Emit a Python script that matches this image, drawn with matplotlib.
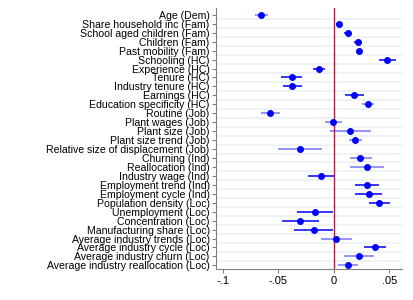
import matplotlib
matplotlib.use("Agg")
import matplotlib.pyplot as plt

plt.rcParams['font.family'] = ['Liberation Sans', 'DejaVu Sans']

labels = ["Age (Dem)", "Share household inc (Fam)", "School aged children (Fam)",
          "Children (Fam)", "Past mobility (Fam)", "Schooling (HC)", "Experience (HC)",
          "Tenure (HC)", "Industry tenure (HC)", "Earnings (HC)",
          "Education specificity (HC)", "Routine (Job)", "Plant wages (Job)",
          "Plant size (Job)", "Plant size trend (Job)",
          "Relative size of displacement (Job)", "Churning (Ind)", "Reallocation (Ind)",
          "Industry wage (Ind)", "Employment trend (Ind)", "Employment cycle (Ind)",
          "Population density (Loc)", "Unemployment (Loc)", "Concentration (Loc)",
          "Manufacturing share (Loc)", "Average industry trends (Loc)",
          "Average industry cycle (Loc)", "Average industry churn (Loc)",
          "Average industry reallocation (Loc)"]

coef = [-0.0655, 0.0042, 0.0123, 0.0219, 0.0228, 0.0483, -0.0138, -0.0381, -0.0375,
        0.0180, 0.0309, -0.0574, -0.0006, 0.0147, 0.0195, -0.0306, 0.0240, 0.0300,
        -0.0117, 0.0297, 0.0315, 0.0408, -0.0171, -0.0303, -0.0183, 0.0021, 0.0372,
        0.0228, 0.0126]
lo = [-0.0709, 0.0015, 0.0095, 0.0180, 0.0200, 0.0408, -0.0186, -0.0474, -0.0456,
      0.0099, 0.0252, -0.0655, -0.0081, -0.0036, 0.0138, -0.0502, 0.0141, 0.0147,
      -0.0234, 0.0189, 0.0195, 0.0315, -0.0330, -0.0465, -0.0357, -0.0117, 0.0270,
      0.0090, 0.0036]
hi = [-0.0598, 0.0070, 0.0152, 0.0258, 0.0255, 0.0559, -0.0081, -0.0286, -0.0291,
      0.0270, 0.0366, -0.0486, 0.0075, 0.0333, 0.0255, -0.0105, 0.0342, 0.0456,
      0.0000, 0.0405, 0.0435, 0.0502, -0.0012, -0.0138, -0.0012, 0.0162, 0.0474,
      0.0363, 0.0222]
# 1 = solid blue interval, 0 = faded
solid = [0, 1, 1, 1, 1, 1, 1, 1, 1, 1, 0, 0, 0, 0, 0, 0, 0, 0, 1, 1, 1, 1, 1, 1, 1,
         0, 1, 0, 0]

xticks = [-0.1, -0.05, 0, 0.05]
xticklabels = ["-.1", "-.05", "0", ".05"]

fig = plt.figure(figsize=(4.13, 3.0), dpi=100)
ax = fig.add_axes([0.523, 0.102, 0.45, 0.871])

n = len(labels)
for i in range(n):
    ax.axhline(i + 0.5, color="#eaf1f2", lw=1.2, zorder=0)
    c = "#0000ff" if solid[i] else "#7575ff"
    ax.plot([lo[i], hi[i]], [i, i], color=c, lw=1.1, solid_capstyle="butt", zorder=2)
ax.plot(coef, range(n), "o", color="#0000ff", ms=4, zorder=3)
ax.axvline(0, color="#d1113d", lw=1.0, zorder=2)

ax.set_ylim(n - 0.55, -0.75)
ax.set_xlim(-0.1063, 0.0613)
ax.set_yticks(range(n))
ax.set_yticklabels(labels, fontsize=7.6)
ax.set_xticks(xticks)
ax.set_xticklabels(xticklabels, fontsize=8)
ax.tick_params(colors="#808080", labelcolor="black", length=3, width=0.8, pad=1.5)

for s in ["top", "right"]:
    ax.spines[s].set_visible(False)
for s in ["left", "bottom"]:
    ax.spines[s].set_color("#808080")
    ax.spines[s].set_linewidth(0.8)

fig.savefig("out.png", dpi=100)
